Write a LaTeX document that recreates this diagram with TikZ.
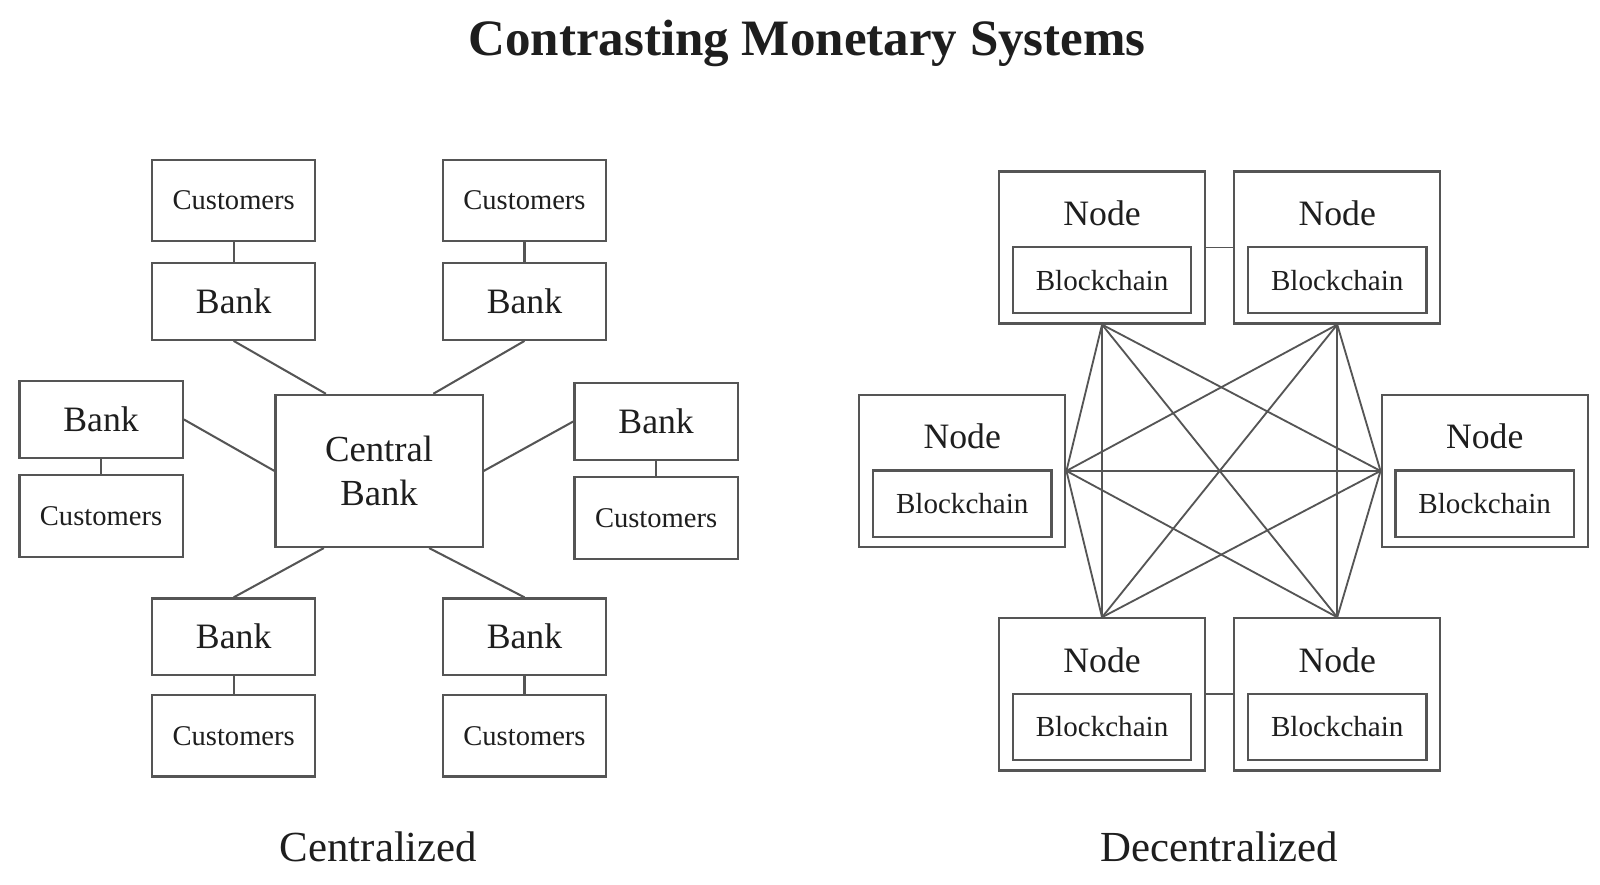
\documentclass[tikz,border=0pt]{standalone}
\usepackage{fontspec}
\setmainfont{Liberation Serif}
\usetikzlibrary{calc}
\definecolor{linegray}{HTML}{555555}
\definecolor{textdark}{HTML}{1E1E1E}
\begin{document}
\begin{tikzpicture}[x=1pt,y=-1pt,
  box/.style={draw=linegray,line width=2.2pt,fill=white,inner sep=0pt,text=textdark,align=center},
  cust/.style={box,minimum width=160pt,minimum height=80pt,font=\fontsize{28}{30}\selectfont},
  bank/.style={box,minimum width=160pt,minimum height=75pt,font=\fontsize{35}{40}\selectfont},
  cbank/.style={box,minimum width=203pt,minimum height=149pt,font=\fontsize{36}{43}\selectfont},
  nodebox/.style={box,minimum width=202pt,minimum height=149pt},
  chain/.style={box,minimum width=175pt,minimum height=65pt,font=\fontsize{28.5}{32}\selectfont},
  nlabel/.style={text=textdark,inner sep=0pt,font=\fontsize{35}{40}\selectfont},
  link/.style={draw=linegray,line width=2pt},
  mesh/.style={draw=linegray,line width=1.8pt},
  caption/.style={text=textdark,inner sep=0pt,font=\fontsize{42}{48}\selectfont}]
\useasboundingbox (0,0) rectangle (1568,867);
\fill[white] (0,0) rectangle (1568,867);
% title
\node[text=textdark,inner sep=0pt,font=\bfseries\fontsize{50}{56}\selectfont] (title) at (791,43) {Contrasting Monetary Systems};
% ---------------- centralized ----------------
\node[cbank] (CB) at (371.5,461.5) {Central\\Bank};
\node[cust] (cTL) at (229,196.5) {Customers};
\node[bank] (bTL) at (229,295.5) {Bank};
\node[cust] (cTR) at (514,196.5) {Customers};
\node[bank] (bTR) at (514,295.5) {Bank};
\node[bank] (bL) at (99,411) {Bank};
\node[cust] (cL) at (99,505.5) {Customers};
\node[bank] (bR) at (643,413) {Bank};
\node[cust] (cR) at (643,507.5) {Customers};
\node[bank] (bBL) at (229,624) {Bank};
\node[cust] (cBL) at (229,721) {Customers};
\node[bank] (bBR) at (514,624) {Bank};
\node[cust] (cBR) at (514,721) {Customers};
\draw[link] (cTL.south) -- (bTL.north);
\draw[link] (cTR.south) -- (bTR.north);
\draw[link] (bL.south) -- (cL.north);
\draw[link] (bR.south) -- (cR.north);
\draw[link] (bBL.south) -- (cBL.north);
\draw[link] (bBR.south) -- (cBR.north);
\draw[link] (bTL.south) -- ($(CB.north west)!0.246!(CB.north east)$);
\draw[link] (bTR.south) -- ($(CB.north west)!0.759!(CB.north east)$);
\draw[link] (bL.east) -- (CB.west);
\draw[link] (bR.west) -- (CB.east);
\draw[link] (bBL.north) -- ($(CB.south west)!0.236!(CB.south east)$);
\draw[link] (bBR.north) -- ($(CB.south west)!0.739!(CB.south east)$);
\node[caption] (capC) at (371,830) {Centralized};
% ---------------- decentralized ----------------
\foreach \n/\x/\y in {TL/1080/242.5,TR/1310.5/242.5,L/943/461.5,R/1455/461.5,BL/1080/680.5,BR/1310.5/680.5}{
  \node[nodebox] (N\n) at (\x,\y) {};
  \node[nlabel] (L\n) at (\x,\y-33.5) {Node};
  \node[chain] (C\n) at (\x,\y+32) {Blockchain};
}
\draw[mesh] (NTL.east) -- (NTR.west);
\draw[mesh] (NBL.east) -- (NBR.west);
\draw[mesh] (NTL.south) -- (NL.east);
\draw[mesh] (NTL.south) -- (NR.west);
\draw[mesh] (NTL.south) -- (NBL.north);
\draw[mesh] (NTL.south) -- (NBR.north);
\draw[mesh] (NTR.south) -- (NL.east);
\draw[mesh] (NTR.south) -- (NR.west);
\draw[mesh] (NTR.south) -- (NBL.north);
\draw[mesh] (NTR.south) -- (NBR.north);
\draw[mesh] (NL.east) -- (NR.west);
\draw[mesh] (NL.east) -- (NBL.north);
\draw[mesh] (NL.east) -- (NBR.north);
\draw[mesh] (NR.west) -- (NBL.north);
\draw[mesh] (NR.west) -- (NBR.north);
\node[caption] (capD) at (1195,830) {Decentralized};
\end{tikzpicture}
\end{document}
